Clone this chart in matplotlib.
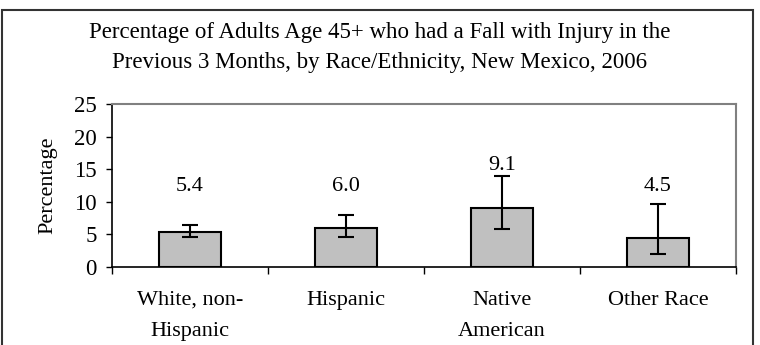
import matplotlib

matplotlib.use("Agg")
import matplotlib.pyplot as plt
from matplotlib.patches import Rectangle

plt.rcParams["font.family"] = ["Liberation Serif", "DejaVu Serif"]

# Data
categories = ["White, non-\nHispanic", "Hispanic", "Native\nAmerican", "Other Race"]
values = [5.4, 6.0, 9.1, 4.5]
lower_ci = [4.6, 4.6, 5.8, 2.0]
upper_ci = [6.4, 7.9, 14.0, 9.7]

title = ("Percentage of Adults Age 45+ who had a Fall with Injury in the\n"
         "Previous 3 Months, by Race/Ethnicity, New Mexico, 2006")

fig = plt.figure(figsize=(7.6, 3.45), dpi=100)
ax = fig.add_axes([0.1474, 0.2261, 0.821, 0.4725])

x = list(range(len(categories)))
yerr = [[v - lo for v, lo in zip(values, lower_ci)],
        [hi - v for v, hi in zip(values, upper_ci)]]
ax.bar(x, values, width=0.4, color="#c0c0c0", edgecolor="black", linewidth=1.5, zorder=2)
ax.errorbar(x, values, yerr=yerr, fmt="none", ecolor="black", elinewidth=1.5,
            capsize=5.5, capthick=1.5, zorder=3)

# value labels above bars (clear of the error bars)
for xi, v, hi in zip(x, values, upper_ci):
    ax.text(xi, max(hi + 1.6, 12.4), f"{v:.1f}", ha="center", va="center", fontsize=16)

ax.set_xlim(-0.5, len(categories) - 0.5)
ax.set_ylim(0, 25)
ax.set_yticks([0, 5, 10, 15, 20, 25])
ax.tick_params(axis="y", labelsize=16.5, direction="out", length=4, width=1, pad=7)

# x ticks at category boundaries, labels centred under bars
ax.set_xticks([i - 0.5 for i in range(len(categories) + 1)])
ax.set_xticklabels([])
ax.tick_params(axis="x", direction="out", length=5, width=1)
for xi, lab in zip(x, categories):
    ax.text(xi, -0.145, lab, transform=ax.get_xaxis_transform(), ha="center", va="top",
            fontsize=16, linespacing=1.85)

ax.set_ylabel("Percentage", fontsize=16, labelpad=12)

for side in ["left", "bottom"]:
    ax.spines[side].set_color("black")
    ax.spines[side].set_linewidth(1.2)
for side in ["top", "right"]:
    ax.spines[side].set_color("#808080")
    ax.spines[side].set_linewidth(1.5)

fig.text(0.5, 0.937, title, ha="center", va="top", fontsize=16.5, linespacing=1.55)

# outer frame, open at the bottom (cropped)
fig.patches.append(Rectangle((0.003, -0.05), 0.988, 1.021, transform=fig.transFigure,
                             fill=False, edgecolor="#333333", linewidth=1.5, clip_on=False))

fig.savefig("out.png", dpi=100)
